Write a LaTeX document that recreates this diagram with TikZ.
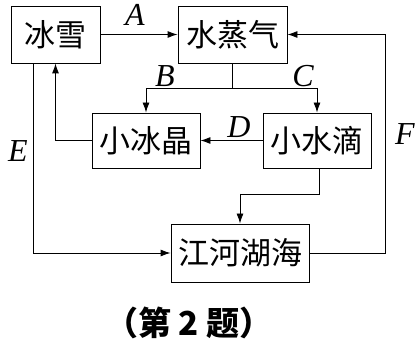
\documentclass[tikz,border=0pt]{standalone}
\usepackage{fontspec}
\newfontfamily\cjk{Noto Sans CJK SC}
\newfontfamily\tms{Liberation Serif}
\usetikzlibrary{arrows.meta}

\begin{document}
\begin{tikzpicture}[x=1pt,y=-1pt,line width=0.9pt,
    box/.style={draw,inner sep=0pt,font=\cjk\fontsize{31}{31}\selectfont},
    arr/.style={-{Latex[length=10pt,width=7pt]}},
    lab/.style={font=\tms\itshape\fontsize{32}{32}\selectfont,inner sep=0pt}]
        \useasboundingbox(0,0)rectangle(417,344);
        \node[box,minimum width=89pt,minimum height=57pt](Ice)at(55.5,34.5){冰雪};
        \node[box,minimum width=109pt,minimum height=57pt](Vap)at(232.5,34.5){水蒸气};
        \node[box,minimum width=108pt,minimum height=55pt](Cry)at(146,140.5){小冰晶};
        \node[box,minimum width=108pt,minimum height=55pt](Drop)at(317,140.5){小水滴};
        \node[box,minimum width=138pt,minimum height=58pt](Lake)at(240,253){江河湖海};
        \coordinate(S)at(232.5,88);
        \coordinate(T)at(240,194);
        \coordinate(Fc)at(385,34.5);
        \draw[arr](Ice.east)--(Vap.west);
        \draw(Vap.south)--(S);
        \draw[arr](S)-|(Cry.north);
        \draw[arr](S)-|(Drop.north);
        \draw[arr](Drop.west)--(Cry.east);
        \draw[arr](Cry.west)-|(Ice.south);
        \draw[arr]([xshift=-22.5pt]Ice.south)|-(Lake.west);
        \draw([xshift=2pt]Drop.south)|-(T);
        \draw[arr](T)--(Lake.north);
        \draw[arr](Lake.east)-|(Fc)--(Vap.east);
        \draw node[lab]at(135,14.5){A};
        \draw node[lab]at(165,76){B};
        \draw node[lab]at(303,76){C};
        \draw node[lab]at(239,127){D};
        \draw node[lab]at(18,151){E};
        \draw node[lab]at(405,134){F};
        \draw node[font=\cjk\bfseries\fontsize{33}{33}\selectfont](Cap)at(189,323){（第 2 题）};
    \end{tikzpicture}
\end{document}
